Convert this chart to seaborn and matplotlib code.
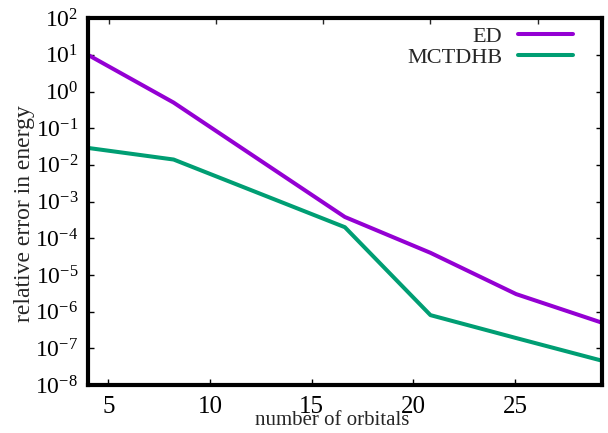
import matplotlib
matplotlib.use('Agg')
from matplotlib import pyplot as plt
import numpy as np
import pandas as pd
import seaborn as sns

# values
orbitals = [4, 8, 16, 20, 24, 28]
err_ed = [10.0, 0.5, 3.8e-4, 4.0e-5, 3.0e-6, 5.0e-7]
err_mctdhb = [0.029, 0.014, 2.0e-4, 8.0e-7, 1.9e-7, 4.6e-8]
xtick_labels = [5, 10, 15, 20, 25]
ytick_exps = list(range(-8, 3))

sns.set_theme(style="white")
plt.rcParams['font.family'] = ['Liberation Serif', 'DejaVu Serif']
plt.rcParams['mathtext.fontset'] = 'custom'
plt.rcParams['mathtext.rm'] = 'Liberation Serif'
plt.rcParams['mathtext.it'] = 'Liberation Serif'
plt.rcParams['axes.unicode_minus'] = False

df = pd.DataFrame({
    "orbitals": orbitals * 2,
    "error": err_ed + err_mctdhb,
    "method": ["ED"] * len(orbitals) + ["MCTDHB"] * len(orbitals),
})
palette = {"ED": "#9400D3", "MCTDHB": "#009E73"}

fig = plt.figure(figsize=(6.08, 4.33), dpi=100)
ax = fig.add_axes([0.1447, 0.111, 0.845, 0.847])

sns.lineplot(data=df, x="orbitals", y="error", hue="method",
             palette=palette, linewidth=2.9, ax=ax, legend=False)

ax.set_yscale('log')
ax.set_xlim(4, 28)
ax.set_ylim(1e-8, 1e2)
ax.set_yticks([10.0 ** e for e in ytick_exps])
ax.set_yticklabels([f"$10^{{{e}}}$" for e in ytick_exps])
ax.yaxis.set_minor_locator(matplotlib.ticker.NullLocator())

# the bottom scale in the reference is slightly compressed
squeeze = 0.95
ax.set_xticks([4 + (t - 4) * squeeze for t in xtick_labels])
ax.set_xticklabels([str(t) for t in xtick_labels])

top = ax.secondary_xaxis('top')
top.set_xticks(xtick_labels)
top.tick_params(direction='in', length=4, width=1, labeltop=False)
top.spines['top'].set_visible(False)

ax.tick_params(axis='both', direction='in', length=4, width=1,
               colors='black', right=True, left=True, bottom=True)
ax.tick_params(axis='x', pad=8, labelsize=18)
ax.tick_params(axis='y', pad=7, labelsize=17)
for sp in ax.spines.values():
    sp.set_linewidth(3)
    sp.set_color('black')

ax.set_xlabel("number of orbitals", fontsize=15)
ax.set_ylabel("relative error in energy", fontsize=17)
ax.xaxis.set_label_coords(0.475, -0.072)
ax.yaxis.set_label_coords(-0.103, 0.467)

handles = [plt.Line2D([], [], color=palette[m], linewidth=2.9) for m in palette]
ax.legend(handles, list(palette), loc='upper right', frameon=False,
          markerfirst=False, fontsize=16, handlelength=2.5, labelspacing=0.0,
          handletextpad=0.7, borderaxespad=0.3, bbox_to_anchor=(0.975, 1.02))

plt.savefig("out.png", dpi=100)
plt.close()
